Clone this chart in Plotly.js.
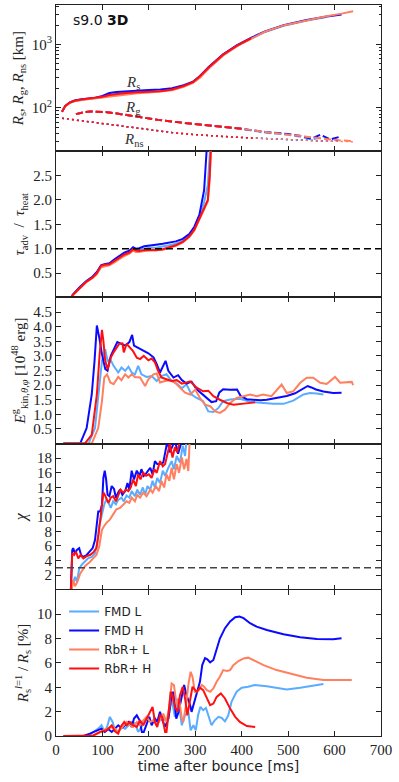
<!DOCTYPE html>
<html>
<head>
<meta charset="utf-8">
<script src="https://cdn.plot.ly/plotly-3.0.1.min.js"></script>
<style>
  html, body { margin: 0; padding: 0; background: #fff; }
  #chart { width: 399px; height: 782px; }
</style>
</head>
<body>
<div id="chart"></div>
<script>
// model names and colours
const models = ['FMD L', 'FMD H', 'RbR+ L', 'RbR+ H'];
const colors = ['#5aacff', '#0a0aff', '#ff7f5f', '#ff1010'];

// panel 1: shock radius R_s [km]
const tRs = [13, 20, 30, 40, 55, 70, 85, 100, 115, 130, 150, 175, 200, 225, 250, 275, 295, 310, 330, 360, 390, 420, 450, 490, 540, 580, 615, 640];
const rsFmdL = [87, 107, 121, 129, 135, 139, 142, 148, 160, 168, 175, 180, 184, 188, 198, 222, 250, 305, 430, 675, 945, 1230, 1570, 1960, 2380, 2680];
const rsFmdH = [87, 108, 123, 131, 137, 141, 145, 155, 172, 178, 183, 188, 192, 196, 205, 228, 258, 318, 448, 700, 975, 1270, 1600, 2000, 2420, 2720, 2960];
const rsRbrL = [87, 106, 120, 128, 134, 138, 141, 146, 152, 158, 164, 170, 175, 180, 190, 215, 248, 300, 425, 670, 940, 1225, 1580, 1990, 2400, 2740, 3050, 3330];
const rsRbrH = [87, 108, 122, 130, 136, 140, 143, 150, 160, 166, 172, 177, 180, 184, 195, 222, 255, 315, 440, 690, 960, 1250];

// panel 1: gain radius R_g [km]
const tRg = [43, 60, 75, 90, 110, 140, 180, 220, 260, 300, 350, 400, 450, 500, 530, 550, 570, 590, 610, 630, 640];
const rgFmdL = [80, 86, 88, 88, 86, 80, 72, 65, 60, 56, 51, 47, 41, 38, 35, 32, 34];
const rgFmdH = [80, 86, 88, 88, 86, 80, 72, 65, 60, 56, 51, 47, 42, 39, 36, 33, 38, 32, 35];
const rgRbrL = [80, 86, 88, 88, 86, 80, 72, 65, 60, 56, 51, 47, 42, 38, 36, 34, 33, 32, 31, 30, 30];
const rgRbrH = [80, 86, 88, 88, 86, 80, 72, 65, 60, 56, 51, 47];

// panel 1: neutron star radius R_ns [km]
const tRns = [13, 40, 72, 110, 144, 180, 215, 250, 287, 320, 359, 400, 431, 470, 502, 540, 576, 610, 640];
const rnsAll = [69, 65, 61, 56, 51, 47, 43.5, 41, 38.7, 37, 35.7, 34.3, 33.4, 32.3, 31.5, 30.8, 30.2, 29.8, 29.5];
const rnsEnd = [17, 18, 19, 13];

// panel 2: tau_adv / tau_heat
const tTau = [20, 33, 36, 50, 65, 79, 88, 97, 104, 115, 126, 136, 147, 158, 166, 172, 179, 190, 201, 215, 230, 244, 258, 273, 287, 298, 309, 319, 327, 331, 334, 338];
const tauFmdL = [0, 0, 0.05, 0.2, 0.33, 0.42, 0.51, 0.65, 0.67, 0.69, 0.76, 0.83, 0.9, 0.94, 1.0, 0.98, 0.98, 1.0, 1.02, 1.02, 1.04, 1.07, 1.1, 1.16, 1.27, 1.42, 1.68, 1.95, 2.3, 2.9, 3.5, 4.0];
const tauFmdH = [0, 0, 0.05, 0.2, 0.33, 0.43, 0.52, 0.66, 0.68, 0.7, 0.78, 0.85, 0.92, 0.96, 1.03, 1.0, 1.01, 1.05, 1.07, 1.08, 1.1, 1.12, 1.15, 1.2, 1.3, 1.45, 1.7, 2.2, 3.5, 4.0];
const tauRbrL = [0, 0, 0.04, 0.18, 0.31, 0.4, 0.48, 0.62, 0.64, 0.66, 0.72, 0.79, 0.85, 0.9, 0.96, 0.93, 0.93, 0.95, 0.96, 0.96, 0.98, 1.02, 1.06, 1.13, 1.24, 1.38, 1.6, 1.8, 1.97, 2.4, 3.1, 4.0];
const tauRbrH = [0, 0, 0.05, 0.19, 0.32, 0.41, 0.5, 0.65, 0.67, 0.68, 0.75, 0.82, 0.88, 0.92, 0.99, 0.96, 0.95, 0.97, 0.98, 0.97, 0.99, 1.03, 1.07, 1.14, 1.25, 1.39, 1.63, 1.84, 2.0, 2.5, 3.2, 4.0];

// panel 3: E_kin [1e48 erg]
const tEkFmdL = [16, 70, 84, 91, 99, 106, 111, 117, 124, 134, 141, 149, 156, 163, 170, 177, 184, 195, 206, 217, 227, 238, 249, 260, 271, 281, 292, 303, 317, 328, 339, 350, 360, 375, 396, 418, 440, 468, 490, 511, 533, 547, 561, 576];
const ekFmdL = [0, 0, 0.53, 1.68, 2.83, 3.23, 2.83, 2.89, 2.66, 2.43, 2.6, 2.49, 2.63, 2.43, 2.37, 2.66, 2.37, 2.28, 2.31, 2.14, 2.31, 2.37, 2.14, 2.05, 1.89, 2.03, 1.68, 1.56, 1.45, 1.1, 1.08, 1.22, 1.45, 1.51, 1.53, 1.43, 1.39, 1.36, 1.36, 1.47, 1.68, 1.73, 1.71, 1.68];
const tEkFmdH = [16, 52, 66, 77, 83, 88, 93, 99, 106, 111, 118, 127, 132, 141, 149, 158, 164, 168, 177, 188, 199, 210, 217, 224, 231, 236, 242, 253, 263, 271, 281, 292, 303, 314, 325, 335, 345, 352, 360, 375, 390, 398, 411, 425, 440, 454, 475, 497, 515, 530, 542, 550, 560, 576, 597, 615];
const ekFmdH = [0, 0, 0.53, 1.68, 2.83, 4.04, 3.64, 3.06, 2.55, 2.49, 3.0, 3.29, 3.47, 3.41, 3.35, 3.47, 3.72, 3.35, 3.27, 3.18, 3.09, 2.95, 2.72, 2.43, 2.66, 2.83, 2.49, 2.26, 2.34, 2.17, 2.05, 2.12, 1.86, 1.71, 1.55, 1.42, 1.45, 1.75, 1.86, 1.84, 1.85, 1.62, 1.52, 1.5, 1.48, 1.5, 1.57, 1.63, 1.72, 1.85, 1.97, 1.92, 1.85, 1.78, 1.73, 1.74];
const tEkRbrL = [16, 77, 91, 99, 104, 110, 117, 124, 134, 141, 149, 156, 163, 170, 181, 192, 199, 210, 217, 224, 235, 246, 256, 267, 278, 289, 300, 310, 321, 332, 343, 353, 364, 375, 389, 404, 418, 432, 446, 464, 479, 486, 497, 511, 526, 540, 554, 569, 583, 601, 612, 626, 637, 640];
const ekRbrL = [0, 0, 0.53, 1.45, 2.26, 2.37, 2.09, 2.03, 2.28, 2.17, 2.37, 2.26, 2.37, 2.28, 2.26, 1.97, 2.2, 2.37, 2.4, 2.09, 2.14, 2.17, 2.09, 1.91, 1.74, 1.68, 1.85, 1.56, 1.33, 1.28, 1.1, 1.05, 1.16, 1.39, 1.56, 1.62, 1.68, 1.62, 1.68, 1.62, 1.91, 2.02, 1.73, 1.79, 2.08, 2.25, 2.25, 2.08, 2.04, 2.28, 2.08, 2.11, 2.11, 2.0];
const tEkRbrH = [16, 62, 77, 88, 94, 99, 102, 106, 111, 118, 124, 130, 136, 143, 146, 152, 159, 166, 174, 181, 189, 199, 206, 213, 220, 227, 238, 249, 260, 271, 281, 289, 303, 317, 328, 339, 353, 368, 382, 396, 414, 429];
const ekRbrH = [0, 0, 0.3, 1.68, 3.06, 3.89, 3.52, 2.83, 2.54, 2.94, 3.12, 3.29, 3.41, 3.43, 3.12, 3.41, 3.29, 3.16, 2.94, 2.89, 3.0, 2.85, 2.91, 2.78, 2.49, 2.26, 2.2, 2.14, 2.17, 2.05, 2.09, 2.13, 1.91, 1.79, 1.81, 1.62, 1.5, 1.39, 1.33, 1.36, 1.38, 1.41];

// panel 4: chi
const tChiFmdL = [32, 36, 41, 45, 50, 55, 62, 69, 77, 84, 89, 93, 99, 104, 108, 113, 118, 123, 129, 134, 141, 146, 152, 158, 163, 170, 175, 181, 187, 192, 197, 203, 208, 213, 218, 224, 230, 235, 242, 249, 254, 260, 267, 273, 278, 283];
const chiFmdL = [0, 0.85, 1.77, 1.08, 2.9, 3.4, 3.8, 4.3, 4.5, 5.0, 6.4, 8.7, 10.3, 11.7, 12.3, 11.9, 11.2, 12.1, 11.7, 12.3, 12.6, 12.1, 12.9, 12.6, 13.5, 12.8, 13.7, 13.0, 14.0, 13.0, 14.2, 13.7, 14.9, 14.0, 15.3, 14.6, 16.3, 15.6, 16.7, 17.6, 16.5, 18.3, 17.4, 19.7, 18.3, 22];
const tChiFmdH = [32, 35, 37, 41, 45, 50, 54, 59, 66, 73, 79, 84, 87, 91, 95, 99, 102, 105, 108, 111, 115, 120, 125, 129, 134, 138, 143, 149, 154, 158, 163, 168, 174, 180, 184, 189, 195, 203, 208, 213, 218, 224, 231, 236, 240, 245, 251, 256, 263, 271, 278];
const chiFmdH = [0, 5.45, 5.7, 5.0, 5.45, 5.7, 4.76, 4.5, 4.76, 5.2, 5.7, 6.8, 8.4, 10.7, 10.7, 11.6, 15.3, 16.3, 15.1, 13.0, 12.8, 14.2, 13.8, 12.6, 13.3, 13.7, 13.0, 13.5, 14.6, 13.7, 16.3, 15.1, 16.3, 15.6, 16.5, 15.6, 16.0, 16.7, 15.8, 17.6, 17.2, 17.2, 17.4, 19.2, 20.4, 18.8, 19.7, 20.4, 18.6, 20.6, 22];
const tChiRbrL = [34, 37, 41, 46, 52, 57, 62, 67, 73, 80, 87, 93, 99, 104, 109, 116, 123, 130, 138, 145, 152, 158, 163, 170, 175, 181, 188, 195, 203, 208, 215, 222, 227, 233, 238, 244, 249, 254, 260, 265, 271, 276, 281, 285, 289];
const chiRbrL = [0, 1.3, 0.5, 1.08, 2.2, 2.7, 3.2, 3.5, 3.8, 4.3, 4.76, 5.9, 8.2, 8.75, 9.2, 9.6, 10.3, 11.0, 11.2, 11.7, 12.1, 11.9, 12.6, 12.1, 13.0, 12.6, 13.3, 12.8, 13.7, 13.3, 14.2, 13.5, 14.9, 14.0, 15.8, 14.9, 16.7, 15.1, 17.2, 16.0, 18.1, 16.5, 17.9, 16.25, 22];
const tChiRbrH = [32, 35, 39, 43, 48, 53, 59, 66, 73, 80, 87, 92, 97, 102, 105, 109, 113, 118, 123, 129, 134, 139, 145, 151, 156, 161, 166, 172, 177, 182, 188, 194, 200, 206, 212, 217, 224, 230, 235, 242, 245, 251, 256, 261, 267, 273];
const chiRbrH = [0, 5.0, 4.76, 5.2, 4.3, 4.76, 4.3, 4.6, 4.76, 5.1, 5.7, 7.75, 10.5, 13.3, 13.0, 12.3, 11.9, 12.6, 12.8, 12.1, 13.0, 13.7, 13.3, 13.7, 13.5, 14.0, 15.1, 14.2, 15.8, 15.1, 16.0, 15.6, 15.8, 15.3, 16.5, 16.0, 17.6, 16.9, 17.2, 19.2, 19.9, 18.1, 19.5, 18.8, 20.6, 22];

// panel 5: R_s^(l=1) / R_s [%]
const tDipFmdL = [16, 70, 80, 91, 98, 105, 111, 116, 122, 127, 134, 141, 149, 156, 163, 170, 177, 184, 192, 199, 206, 213, 220, 227, 235, 242, 249, 256, 263, 271, 278, 285, 290, 296, 301, 306, 311, 317, 323, 328, 335, 342, 350, 357, 364, 371, 378, 389, 400, 414, 428, 454, 475, 497, 526, 554, 576];
const dipFmdL = [0, 0, 0.33, 0.6, 0.88, 0.33, 0.88, 1.57, 1.15, 0.47, 0.33, 0.74, 0.6, 0.88, 1.15, 1.02, 0.33, 0.74, 1.29, 1.43, 1.15, 1.43, 1.15, 1.57, 1.29, 1.43, 3.08, 1.57, 3.08, 0.88, 1.7, 1.98, 0.47, 0.88, 0.47, 1.7, 2.39, 2.12, 2.31, 1.7, 0.88, 1.29, 1.57, 1.48, 1.2, 1.7, 2.8, 3.63, 3.96, 4.04, 4.18, 4.09, 3.96, 3.82, 3.96, 4.12, 4.26];
const tDipFmdH = [16, 59, 73, 88, 98, 105, 113, 120, 127, 134, 141, 149, 156, 163, 168, 174, 180, 185, 189, 195, 201, 206, 213, 218, 224, 229, 235, 242, 249, 253, 259, 264, 271, 276, 281, 289, 292, 297, 303, 310, 315, 321, 326, 332, 339, 346, 353, 364, 375, 386, 395, 404, 418, 432, 454, 490, 526, 562, 597, 615];
const dipFmdH = [0, 0, 0.19, 0.47, 0.6, 0.33, 0.55, 0.33, 0.6, 0.88, 0.66, 0.88, 1.15, 0.74, 1.43, 1.7, 1.29, 0.33, 0.33, 0.88, 1.57, 0.88, 1.43, 1.15, 1.98, 1.29, 0.74, 1.43, 3.35, 3.63, 1.43, 1.98, 3.35, 4.18, 3.35, 2.53, 1.98, 2.66, 3.63, 4.45, 5.82, 6.4, 6.3, 6.04, 6.24, 7.2, 8.0, 8.85, 9.4, 9.75, 9.8, 9.67, 9.26, 8.98, 8.7, 8.35, 8.1, 7.97, 7.94, 8.02];
const tDipRbrL = [16, 80, 95, 109, 123, 134, 143, 152, 159, 166, 174, 181, 188, 195, 203, 210, 217, 224, 231, 238, 244, 249, 254, 260, 265, 271, 274, 280, 285, 290, 294, 299, 306, 314, 319, 325, 332, 339, 346, 353, 360, 368, 375, 382, 393, 404, 414, 425, 447, 475, 504, 540, 576, 612, 637];
const dipRbrL = [0, 0, 0.33, 0.6, 0.74, 0.33, 0.74, 1.15, 0.88, 0.74, 1.15, 0.88, 1.29, 1.57, 1.15, 1.29, 0.88, 1.29, 1.84, 1.15, 2.39, 4.31, 4.18, 2.53, 3.08, 1.43, 1.15, 2.53, 4.18, 5.27, 4.86, 3.63, 3.68, 4.18, 4.04, 3.76, 3.63, 3.9, 4.45, 4.86, 5.41, 5.33, 5.41, 5.82, 6.15, 6.37, 6.43, 6.24, 5.82, 5.41, 5.14, 4.78, 4.59, 4.59, 4.59];
const tDipRbrH = [16, 80, 95, 109, 120, 127, 134, 139, 147, 152, 159, 166, 174, 181, 188, 195, 203, 208, 213, 218, 224, 229, 235, 238, 242, 247, 251, 256, 262, 267, 273, 278, 283, 287, 294, 303, 310, 317, 325, 332, 339, 346, 355, 364, 375, 386, 396, 411, 429];
const dipRbrH = [0, 0.05, 0.33, 0.47, 0.88, 0.38, 0.19, 0.74, 1.15, 0.88, 1.15, 0.88, 0.74, 1.29, 0.88, 1.43, 2.12, 2.39, 1.15, 0.74, 1.7, 1.57, 0.33, 0.33, 1.7, 3.63, 3.35, 2.39, 1.98, 3.35, 4.04, 3.08, 1.7, 2.53, 4.04, 3.63, 3.96, 3.76, 3.08, 2.53, 2.66, 3.21, 3.49, 3.08, 2.25, 1.57, 1.15, 0.82, 0.74];

const serif = '"Liberation Serif", "DejaVu Serif", serif';
const sans = '"DejaVu Sans", "Liberation Sans", sans-serif';
const axisColor = '#222';

const traces = [];

function addLine(t, v, i, axisNum, extra = {}) {
    traces.push({
        x: t.slice(0, v.length),
        y: v,
        type: 'scatter',
        mode: 'lines',
        name: models[i],
        legendgroup: models[i],
        showlegend: false,
        xaxis: axisNum === 1 ? 'x' : 'x' + axisNum,
        yaxis: axisNum === 1 ? 'y' : 'y' + axisNum,
        line: { color: colors[i], width: 2 },
        hoverinfo: 'skip',
        ...extra
    });
}

// panel 1
const rsSeries = [rsFmdL, rsFmdH, rsRbrL, rsRbrH];
const rgSeries = [rgFmdL, rgFmdH, rgRbrL, rgRbrH];
rsSeries.forEach((v, i) => addLine(tRs, v, i, 1));
rgSeries.forEach((v, i) => addLine(tRg, v, i, 1, { line: { color: colors[i], width: 2, dash: '7px,3px' } }));
rnsEnd.forEach((n, i) => addLine(tRns, rnsAll.slice(0, n), i, 1, { line: { color: colors[i], width: 1.5, dash: '2px,3px' } }));

// panel 2
[tauFmdL, tauFmdH, tauRbrL, tauRbrH].forEach((v, i) => addLine(tTau, v, i, 2));

// panel 3
[[tEkFmdL, ekFmdL], [tEkFmdH, ekFmdH], [tEkRbrL, ekRbrL], [tEkRbrH, ekRbrH]]
    .forEach(([t, v], i) => addLine(t, v, i, 3));

// panel 4
[[tChiFmdL, chiFmdL], [tChiFmdH, chiFmdH], [tChiRbrL, chiRbrL], [tChiRbrH, chiRbrH]]
    .forEach(([t, v], i) => addLine(t, v, i, 4));

// panel 5 (carries the legend)
[[tDipFmdL, dipFmdL], [tDipFmdH, dipFmdH], [tDipRbrL, dipRbrL], [tDipRbrH, dipRbrH]]
    .forEach(([t, v], i) => addLine(t, v, i, 5, { showlegend: true }));

const xTicks = [0, 100, 200, 300, 400, 500, 600, 700];

function xAxis(n) {
    const ax = {
        domain: [0, 1],
        anchor: n === 1 ? 'y' : 'y' + n,
        range: [0, 700],
        tickvals: xTicks,
        showticklabels: n === 5,
        ticks: 'inside',
        ticklen: 5,
        tickcolor: axisColor,
        showline: true,
        linecolor: axisColor,
        linewidth: 1,
        mirror: 'ticks',
        showgrid: false,
        zeroline: false,
        tickfont: { family: serif, size: 15, color: '#222' }
    };
    if (n === 5) {
        ax.title = { text: 'time after bounce [ms]', font: { family: sans, size: 14, color: '#222' }, standoff: 3 };
    }
    return ax;
}

function yAxis(n, opts) {
    const top = 1 - (n - 1) * 0.2;
    return {
        domain: [top - 0.2, top],
        anchor: n === 1 ? 'x' : 'x' + n,
        ticks: 'inside',
        ticklen: 5,
        tickcolor: axisColor,
        showline: true,
        linecolor: axisColor,
        linewidth: 1,
        mirror: 'ticks',
        showgrid: false,
        zeroline: false,
        tickfont: { family: serif, size: 15, color: '#222' },
        ...opts
    };
}

const titleFont = { family: serif, size: 15, color: '#222' };

const layout = {
    width: 399,
    height: 782,
    margin: { t: 5, r: 18, b: 46, l: 56 },
    plot_bgcolor: '#ffffff',
    paper_bgcolor: '#ffffff',
    font: { family: serif, size: 15, color: '#222' },
    showlegend: true,
    legend: {
        x: 0.025, y: 0.19, xanchor: 'left', yanchor: 'top',
        bgcolor: 'rgba(0,0,0,0)',
        font: { family: sans, size: 12, color: '#222' },
        tracegroupgap: 0
    },
    xaxis: xAxis(1), xaxis2: xAxis(2), xaxis3: xAxis(3), xaxis4: xAxis(4), xaxis5: xAxis(5),
    yaxis: yAxis(1, {
        type: 'log',
        range: [1.32, 3.62],
        tickvals: [100, 1000],
        ticktext: ['10<sup>2</sup>', '10<sup>3</sup>'],
        minor: {
            ticks: 'inside', ticklen: 2.5, tickcolor: axisColor,
            tickvals: [30, 40, 50, 60, 70, 80, 90, 200, 300, 400, 500, 600, 700, 800, 900, 2000, 3000, 4000]
        },
        title: { text: '<i>R</i><sub>s</sub>, <i>R</i><sub>g</sub>, <i>R</i><sub>ns</sub> [km]', font: titleFont, standoff: 4 }
    }),
    yaxis2: yAxis(2, {
        range: [0, 3],
        tickvals: [0.5, 1.0, 1.5, 2.0, 2.5],
        ticktext: ['0.5', '1.0', '1.5', '2.0', '2.5'],
        title: { text: '<i>τ</i><sub>adv</sub>  /  <i>τ</i><sub>heat</sub>', font: titleFont, standoff: 4 }
    }),
    yaxis3: yAxis(3, {
        range: [0, 5],
        tickvals: [0.5, 1.0, 1.5, 2.0, 2.5, 3.0, 3.5, 4.0, 4.5],
        ticktext: ['0.5', '1.0', '1.5', '2.0', '2.5', '3.0', '3.5', '4.0', '4.5'],
        title: { text: '<i>E</i><sup>g</sup><sub>kin,<i>θ</i>,<i>φ</i></sub> [10<sup>48</sup> erg]', font: titleFont, standoff: 4 }
    }),
    yaxis4: yAxis(4, {
        range: [0, 20],
        tickvals: [2, 4, 6, 8, 10, 12, 14, 16, 18],
        title: { text: '<i>χ</i>', font: { family: serif, size: 16, color: '#222' }, standoff: 6 }
    }),
    yaxis5: yAxis(5, {
        range: [0, 12],
        tickvals: [0, 2, 4, 6, 8, 10],
        title: { text: '<i>R</i><sub>s</sub><sup><i>l</i>=1</sup> / <i>R</i><sub>s</sub> [%]', font: titleFont, standoff: 4 }
    }),
    shapes: [
        { type: 'line', xref: 'x2 domain', x0: 0, x1: 1, yref: 'y2', y0: 1, y1: 1, line: { color: '#000', width: 1.5, dash: '7px,4px' } },
        { type: 'line', xref: 'x4 domain', x0: 0, x1: 1, yref: 'y4', y0: 3, y1: 3, line: { color: '#444', width: 1.5, dash: '7px,4px' } }
    ],
    annotations: [
        { xref: 'x domain', yref: 'y domain', x: 0.045, y: 0.9, xanchor: 'left', yanchor: 'middle', showarrow: false,
          text: 's9.0 <b>3D</b>', font: { family: sans, size: 14, color: '#111' } },
        { xref: 'x', yref: 'y', x: 166, y: 2.39, showarrow: false, text: '<i>R</i><sub>s</sub>', font: { family: serif, size: 15, color: '#333' } },
        { xref: 'x', yref: 'y', x: 166, y: 2.0, showarrow: false, text: '<i>R</i><sub>g</sub>', font: { family: serif, size: 15, color: '#333' } },
        { xref: 'x', yref: 'y', x: 168, y: 1.5, showarrow: false, text: '<i>R</i><sub>ns</sub>', font: { family: serif, size: 15, color: '#333' } }
    ]
};

Plotly.newPlot('chart', traces, layout, { displayModeBar: false, staticPlot: true });
</script>
</body>
</html>
